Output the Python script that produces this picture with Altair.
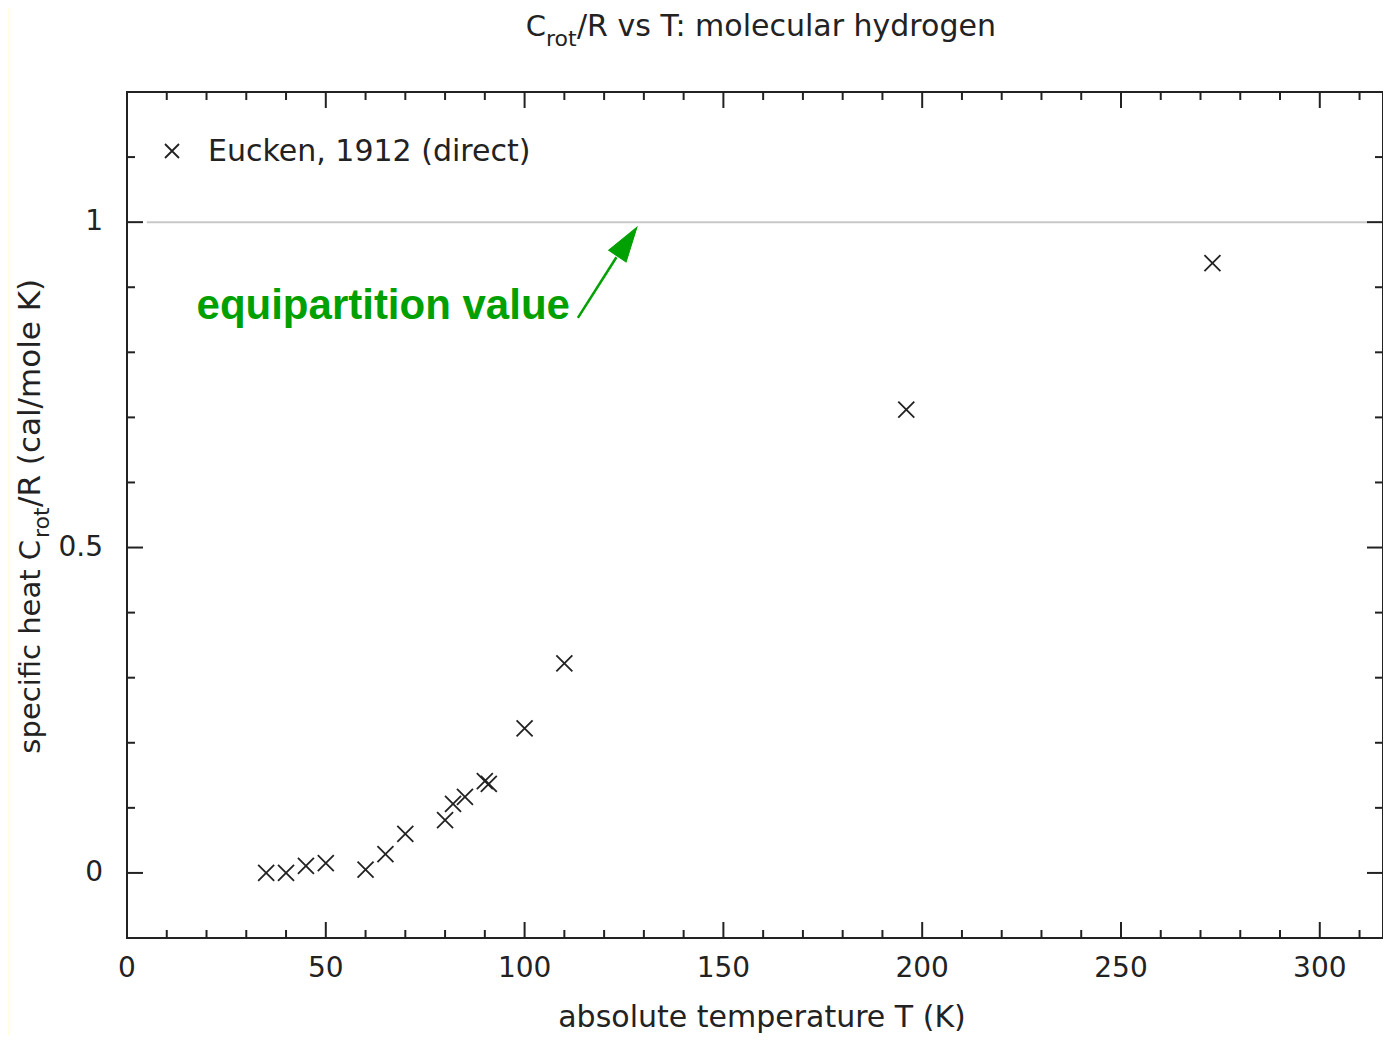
import altair as alt
import pandas as pd

# ---- data ----
T = [35, 40, 45, 50, 60, 65, 70, 80, 82, 85, 90, 91, 100, 110, 196, 273]
C_rot = [0.0, 0.0, 0.011, 0.015, 0.005, 0.029, 0.06, 0.081, 0.106, 0.117,
         0.141, 0.137, 0.222, 0.322, 0.712, 0.937]

x_major = [0, 50, 100, 150, 200, 250, 300]
x_labels = ["0", "50", "100", "150", "200", "250", "300"]
x_minor = [v for v in range(10, 320, 10) if v % 50 != 0]
y_major = [0, 0.5, 1]
y_labels = ["0", "0.5", "1"]
y_minor = [-0.1, 0.1, 0.2, 0.3, 0.4, 0.6, 0.7, 0.8, 0.9, 1.1]

equip_value = [1.0]
equip_T_start = [5]
equip_T_end = [312]

arrow_T = [113.4]
arrow_C = [0.853]
arrow_T2 = [123.1]
arrow_C2 = [0.946]
head_T = [125.8]
head_C = [0.970]
label_T = [111.4]
label_C = [0.851]

INK = "#222222"
GREEN = "#00A000"
FONT = "DejaVu Sans"
W, H = 1256, 846
X_DOMAIN = [0, 315.9]
Y_DOMAIN = [-0.1, 1.2]

xs = alt.Scale(domain=X_DOMAIN, nice=False, zero=False)
ys = alt.Scale(domain=Y_DOMAIN, nice=False, zero=False)

df = pd.DataFrame({"T": T, "C": C_rot})
dummy = pd.DataFrame({"a": [0]})

X_SHAPE = "M-1,-1L1,1M-1,1L1,-1"
HEAD_SHAPE = "M0,-1L0.6,1L-0.6,1Z"


def X(field):
    return alt.X(field, scale=xs, axis=None, title=None)


def Y(field):
    return alt.Y(field, scale=ys, axis=None, title=None)


points = alt.Chart(df).mark_point(
    shape=X_SHAPE, size=256, filled=False, stroke=INK, strokeWidth=1.8, opacity=1
).encode(x=X("T:Q"), y=Y("C:Q"))


def tick_layer(vals, axis, length, side):
    d = pd.DataFrame({"v": vals})
    if axis == "x":
        y1, y2 = (H, H - length) if side == "bottom" else (0, length)
        return alt.Chart(d).mark_rule(color=INK, strokeWidth=2).encode(
            x=X("v:Q"), y=alt.value(y1), y2=alt.value(y2))
    x1, x2 = (0, length) if side == "left" else (W, W - length)
    return alt.Chart(d).mark_rule(color=INK, strokeWidth=2).encode(
        y=Y("v:Q"), x=alt.value(x1), x2=alt.value(x2))


ticks = [
    tick_layer(x_major, "x", 16, "bottom"), tick_layer(x_major, "x", 16, "top"),
    tick_layer(x_minor, "x", 8, "bottom"), tick_layer(x_minor, "x", 8, "top"),
    tick_layer(y_major, "y", 16, "left"), tick_layer(y_major, "y", 16, "right"),
    tick_layer(y_minor, "y", 8, "left"), tick_layer(y_minor, "y", 8, "right"),
]

xlab = alt.Chart(pd.DataFrame({"v": x_major, "s": x_labels})).mark_text(
    font=FONT, fontSize=28, color=INK, align="center", baseline="alphabetic"
).encode(x=X("v:Q"), y=alt.value(885), text="s:N")

ylab = alt.Chart(pd.DataFrame({"v": y_major, "s": y_labels})).mark_text(
    font=FONT, fontSize=28, color=INK, align="right", baseline="middle"
).encode(y=Y("v:Q"), x=alt.value(-24), text="s:N")

equip = alt.Chart(pd.DataFrame({"t1": equip_T_start, "t2": equip_T_end,
                                "c": equip_value})).mark_rule(
    color="#c8c8c8", strokeWidth=2
).encode(x=X("t1:Q"), x2="t2:Q", y=Y("c:Q"))

arrow_df = pd.DataFrame({"t1": arrow_T, "c1": arrow_C, "t2": arrow_T2, "c2": arrow_C2})
shaft = alt.Chart(arrow_df).mark_rule(color=GREEN, strokeWidth=2.5).encode(
    x=X("t1:Q"), x2="t2:Q", y=Y("c1:Q"), y2="c2:Q")
head = alt.Chart(pd.DataFrame({"t": head_T, "c": head_C})).mark_point(
    shape=HEAD_SHAPE, size=1225, filled=True, fill=GREEN, stroke=GREEN,
    strokeWidth=1, opacity=1, angle=34
).encode(x=X("t:Q"), y=Y("c:Q"))
equip_label = alt.Chart(pd.DataFrame({"t": label_T, "c": label_C})).mark_text(
    text="equipartition value", font="Liberation Sans", fontWeight="bold",
    fontSize=42, color=GREEN, align="right", baseline="alphabetic"
).encode(x=X("t:Q"), y=Y("c:Q"))


def txt(text, x, y, size=30, align="left", angle=0, font=FONT, color=INK):
    kw = dict(text=text, font=font, fontSize=size, color=color, align=align,
              baseline="alphabetic")
    if angle:
        kw["angle"] = angle
    return alt.Chart(dummy).mark_text(**kw).encode(x=alt.value(x), y=alt.value(y))


# title: C_rot/R vs T: molecular hydrogen
title_layers = [
    txt("C", 419, -56, size=29, align="right"),
    txt("rot", 419, -46, size=22),
    txt("/R vs T: molecular hydrogen", 450, -56),
]

# y axis title: specific heat C_rot/R (cal/mole K)
ytitle_layers = [
    txt("specific heat C", -87, 448, size=29, align="right", angle=270),
    txt("rot", -78, 446, size=22, align="left", angle=270),
    txt("/R (cal/mole K)", -87, 415, size=31, align="left", angle=270),
]

# x axis title
xtitle = txt("absolute temperature T (K)", 635, 935, align="center")

# legend
legend_mark = alt.Chart(dummy).mark_point(
    shape=X_SHAPE, size=196, filled=False, stroke=INK, strokeWidth=1.8, opacity=1
).encode(x=alt.value(45), y=alt.value(59))
legend_text = txt("Eucken, 1912 (direct)", 81, 69)

# pale yellow page border strip at far left
strip = alt.Chart(dummy).mark_rect(color="#FFFFE0").encode(
    x=alt.value(-119), x2=alt.value(-117), y=alt.value(-84), y2=alt.value(943))

chart = alt.layer(
    strip, equip, *ticks, xlab, ylab, points, shaft, head, equip_label,
    *title_layers, *ytitle_layers, xtitle, legend_mark, legend_text
).properties(
    width=W, height=H,
    autosize=alt.AutoSizeParams(type="none"),
    padding={"left": 119, "top": 84, "right": 0, "bottom": 97},
    background="white",
).configure_view(
    stroke=INK, strokeWidth=2
)

chart.save("out.html", embed_options={"renderer": "svg", "actions": False})
